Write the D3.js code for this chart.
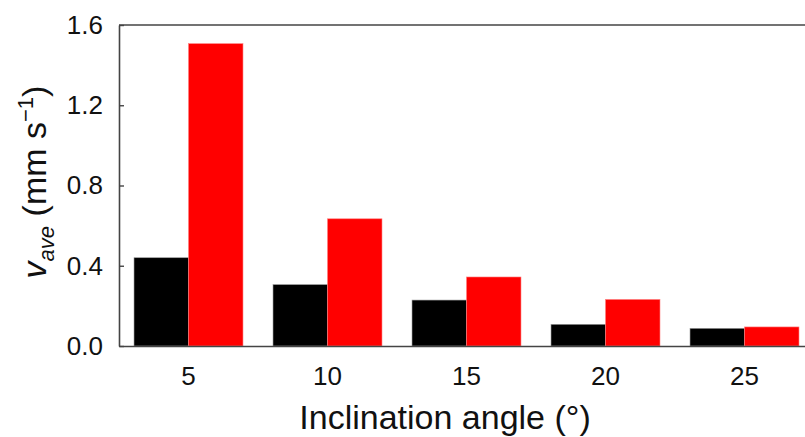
<!DOCTYPE html>
<html>
<head>
<meta charset="utf-8">
<script src="https://cdn.jsdelivr.net/npm/d3@7"></script>
<style>
  body { margin: 0; background: #fff; }
  svg { display: block; font-family: "Liberation Sans", Arial, sans-serif; }
</style>
</head>
<body>
<div class="canvas"></div>
<script>
// data
const angles = ['5', '10', '15', '20', '25'];
const seriesNames = ['black', 'red'];
const blackValues = [0.44, 0.306, 0.229, 0.108, 0.088];
const redValues = [1.507, 0.634, 0.344, 0.232, 0.095];
const yTicks = [0, 0.4, 0.8, 1.2, 1.6];
const colors = ['#000000', '#ff0000'];

const width = 805, height = 437;
const svg = d3.select('.canvas')
    .append('svg')
    .attr('width', width)
    .attr('height', height);

// plot box (right edge falls outside the picture)
const plotLeft = 119, plotRight = 814, plotTop = 25, plotBottom = 346;

const x = d3.scaleBand()
    .domain(angles)
    .range([plotLeft, plotRight])
    .paddingInner(0.216)
    .paddingOuter(0.108);

const xInner = d3.scaleBand()
    .domain(seriesNames)
    .range([0, x.bandwidth()]);

const y = d3.scaleLinear()
    .domain([0, 1.6])
    .range([plotBottom, plotTop]);

const rows = angles.map((a, i) => ({angle: a, values: [blackValues[i], redValues[i]]}));

const groups = svg.selectAll('g.group')
    .data(rows)
    .enter().append('g')
    .attr('class', 'group')
    .attr('transform', d => 'translate(' + x(d.angle) + ',0)');

groups.selectAll('rect')
    .data(d => d.values.map((v, j) => ({name: seriesNames[j], value: v, color: colors[j]})))
    .enter().append('rect')
    .attr('x', d => xInner(d.name))
    .attr('y', d => y(d.value))
    .attr('width', xInner.bandwidth())
    .attr('height', d => plotBottom - y(d.value))
    .attr('fill', d => d.color)
    .attr('stroke', d => d.name === 'black' ? '#9a9a9a' : '#ff8080')
    .attr('stroke-width', 0.6);

// axes
const yAxis = d3.axisLeft(y)
    .tickValues(yTicks)
    .tickFormat(d3.format('.1f'))
    .tickSizeInner(-5)
    .tickSizeOuter(0)
    .tickPadding(16);

const xAxis = d3.axisBottom(x)
    .tickSize(0)
    .tickPadding(21);

const yAxisGroup = svg.append('g')
    .attr('transform', 'translate(' + plotLeft + ',0)')
    .call(yAxis);

const xAxisGroup = svg.append('g')
    .attr('transform', 'translate(0,' + plotBottom + ')')
    .call(xAxis);

[xAxisGroup, yAxisGroup].forEach(g => {
  g.selectAll('path').attr('stroke', '#444').attr('stroke-width', 1.6);
  g.selectAll('line').attr('stroke', '#444').attr('stroke-width', 1.4);
  g.selectAll('text').attr('font-size', 26).attr('fill', '#111')
    .attr('font-family', '"Liberation Sans", Arial, sans-serif');
});

// top frame line
svg.append('line')
    .attr('x1', plotLeft).attr('x2', plotRight)
    .attr('y1', plotTop).attr('y2', plotTop)
    .attr('stroke', '#444').attr('stroke-width', 1.6);

// axis titles
svg.append('text')
    .attr('x', 445)
    .attr('y', 429)
    .attr('text-anchor', 'middle')
    .attr('font-size', 34)
    .attr('fill', '#111')
    .text('Inclination angle (°)');

const yTitle = svg.append('text')
    .attr('transform', 'translate(46,182) rotate(-90)')
    .attr('text-anchor', 'middle')
    .attr('font-size', 34)
    .attr('fill', '#111');
yTitle.append('tspan').attr('font-style', 'italic').text('v');
yTitle.append('tspan').attr('font-style', 'italic').attr('font-size', 22).attr('dy', 8).text('ave');
yTitle.append('tspan').attr('dy', -8).text(' (mm s');
yTitle.append('tspan').attr('font-size', 22).attr('dy', -13).text('\u22121');
yTitle.append('tspan').attr('dy', 13).text(')');
</script>
</body>
</html>
